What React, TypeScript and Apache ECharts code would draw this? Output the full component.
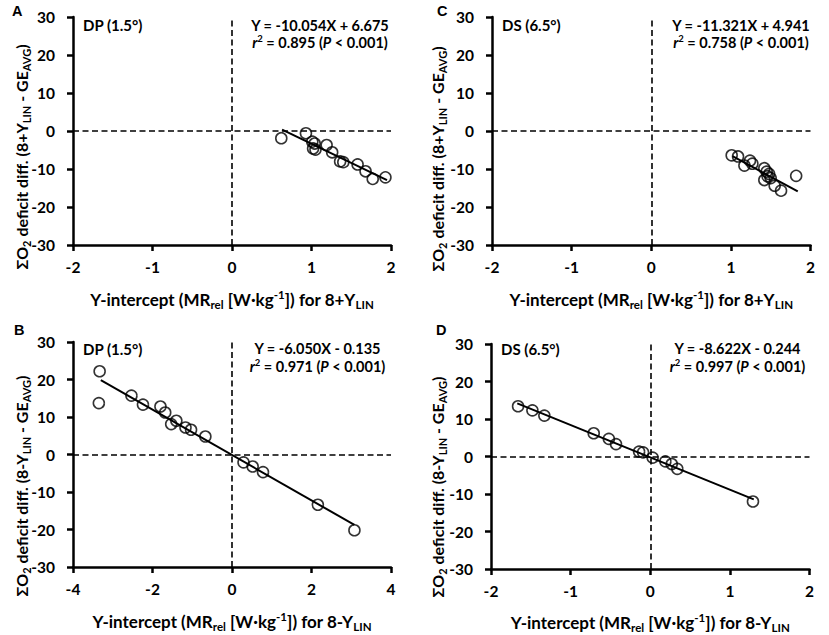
import React, { useEffect, useRef } from "react";
import * as echarts from "echarts";

// Panel A: DP (1.5°), 8+YLIN
const xA = [0.62, 0.93, 1.01, 1.04, 1.02, 1.05, 1.19, 1.26, 1.36, 1.40, 1.58, 1.68, 1.77, 1.93];
const yA = [-1.9, -0.6, -2.8, -3.3, -4.6, -4.9, -3.7, -5.6, -8.0, -8.2, -8.8, -10.6, -12.6, -12.2];
const fitA = { slope: -10.054, intercept: 6.675, x: [0.63, 1.95] };

// Panel C: DS (6.5°), 8+YLIN
const xC = [1.01, 1.09, 1.17, 1.24, 1.27, 1.42, 1.45, 1.48, 1.42, 1.50, 1.55, 1.63, 1.82, 1.46];
const yC = [-6.4, -6.7, -9.1, -7.8, -8.6, -9.8, -10.7, -11.3, -12.9, -12.4, -14.4, -15.7, -11.8, -11.9];
const fitC = { slope: -11.321, intercept: 4.941, x: [1.02, 1.84] };

// Panel B: DP (1.5°), 8-YLIN
const xB = [-3.33, -3.35, -2.53, -2.24, -1.80, -1.68, -1.53, -1.40, -1.17, -1.03, -0.67, 0.29, 0.52, 0.78, 2.16, 3.08];
const yB = [22.2, 13.7, 15.7, 13.3, 12.8, 11.2, 8.1, 9.0, 7.2, 6.6, 4.8, -2.1, -3.2, -4.7, -13.4, -20.2];
const fitB = { slope: -6.05, intercept: -0.135, x: [-3.3, 3.08] };

// Panel D: DS (6.5°), 8-YLIN
const xD = [-1.66, -1.48, -1.33, -0.71, -0.52, -0.43, -0.14, -0.09, 0.03, 0.19, 0.27, 0.34, 1.29];
const yD = [13.4, 12.3, 10.9, 6.2, 4.7, 3.3, 1.3, 1.1, -0.3, -1.3, -2.0, -3.3, -12.0];
const fitD = { slope: -8.622, intercept: -0.244, x: [-1.67, 1.3] };

const panelLetters = ["A", "C", "B", "D"];
const conditions = ["DP (1.5°)", "DS (6.5°)", "DP (1.5°)", "DS (6.5°)"];
const equations = ["Y = -10.054X + 6.675", "Y = -11.321X + 4.941", "Y = -6.050X - 0.135", "Y = -8.622X - 0.244"];
const r2Values = ["0.895", "0.758", "0.971", "0.997"];
const modes = ["8+Y", "8+Y", "8-Y", "8-Y"];
const xRanges = [
  [-2, 2, 1],
  [-2, 2, 1],
  [-4, 4, 2],
  [-2, 2, 1],
];
const yRange = [-30, 30, 10];

const F = "Lato, 'Noto Sans', sans-serif";

const mkRich = (size: number, subSize: number) => ({
  n: { fontSize: size, fontWeight: "bold", fontFamily: F, color: "#000", lineHeight: 22, verticalAlign: "middle" },
  s: { fontSize: subSize, fontWeight: "bold", fontFamily: F, color: "#000", lineHeight: 13, verticalAlign: "bottom" },
  p: { fontSize: subSize, fontWeight: "bold", fontFamily: F, color: "#000", lineHeight: 13, verticalAlign: "top" },
});
const richX = mkRich(17, 11.5);
const richY = mkRich(16, 11);

const richEq = {
  b: { fontSize: 14.5, fontWeight: "bold", fontFamily: F, color: "#000", lineHeight: 18, verticalAlign: "middle" },
  i: { fontSize: 14.5, fontWeight: "bold", fontStyle: "italic", fontFamily: F, color: "#000", lineHeight: 18, verticalAlign: "middle" },
  p: { fontSize: 9.5, fontWeight: "bold", fontFamily: F, color: "#000", lineHeight: 11, verticalAlign: "top" },
};

// layout of the four panels: A (top-left), C (top-right), B (bottom-left), D (bottom-right)
const layout = [
  { left: 73, top: 17, width: 318, height: 228, letter: [12, 3], cond: [83, 25], eq: [320, 25, 42.5], yTitle: [21, 157], gap: 43 },
  { left: 492, top: 17, width: 318.5, height: 228, letter: [437, 3], cond: [502, 25], eq: [741, 25, 42.5], yTitle: [437, 159], gap: 43 },
  { left: 73, top: 342, width: 318, height: 225, letter: [14, 322], cond: [83, 349], eq: [317.5, 348.5, 366.5], yTitle: [21, 486], gap: 43 },
  { left: 491, top: 344, width: 318.5, height: 225, letter: [436, 322], cond: [501, 349], eq: [737.5, 348.5, 366.5], yTitle: [437, 487], gap: 42 },
];

const pts = (xs: number[], ys: number[]) => xs.map((x, i) => [x, ys[i]]);
const fitPts = (f: { slope: number; intercept: number; x: number[] }) =>
  f.x.map((x) => [x, f.slope * x + f.intercept]);

export default function App() {
  const ref = useRef<HTMLDivElement>(null);
  useEffect(() => {
    if (!ref.current) return;
    const chart = echarts.init(ref.current, undefined, { renderer: "svg" });
    const data = [pts(xA, yA), pts(xC, yC), pts(xB, yB), pts(xD, yD)];
    const fits = [fitA, fitC, fitB, fitD];

    const grids = layout.map((l) => ({ left: l.left, top: l.top, width: l.width, height: l.height }));
    const axisLine = { onZero: false, lineStyle: { color: "#000", width: 2.5 } };
    const axisTick = { show: true, inside: false, length: 6, lineStyle: { color: "#000", width: 2.5 } };
    const labelStyle = { color: "#000", fontFamily: F, fontWeight: "bold", fontSize: 15.5 };

    const xAxes = layout.map((l, i) => ({
      type: "value",
      gridIndex: i,
      min: xRanges[i][0],
      max: xRanges[i][1],
      interval: xRanges[i][2],
      axisLine,
      axisTick,
      splitLine: { show: false },
      axisLabel: { ...labelStyle, margin: 14 },
      name: `{n|Y-intercept (MR}{s|rel}{n| [W·kg}{p|-1}{n|]) for ${modes[i]}}{s|LIN}`,
      nameLocation: "middle",
      nameGap: l.gap,
      nameTextStyle: { rich: richX },
    }));
    const yAxes = layout.map((l, i) => ({
      type: "value",
      gridIndex: i,
      min: yRange[0],
      max: yRange[1],
      interval: yRange[2],
      axisLine,
      axisTick,
      splitLine: { show: false },
      axisLabel: { ...labelStyle, margin: 18 },
    }));

    const series: any[] = [];
    data.forEach((d, i) => {
      series.push({
        type: "scatter",
        xAxisIndex: i,
        yAxisIndex: i,
        data: d,
        symbol: "circle",
        symbolSize: 11,
        itemStyle: { color: "rgba(255,255,255,0)", borderColor: "#000", borderWidth: 1.6 },
        z: 3,
        markLine: {
          silent: true,
          symbol: ["none", "none"],
          label: { show: false },
          lineStyle: { color: "#000", width: 1.6, type: [6, 3.5] },
          data: [{ xAxis: 0 }, { yAxis: 0 }],
        },
      });
      series.push({
        type: "line",
        xAxisIndex: i,
        yAxisIndex: i,
        data: fitPts(fits[i]),
        symbol: "none",
        lineStyle: { color: "#000", width: 2 },
        z: 4,
      });
    });

    const graphic: any[] = [];
    layout.forEach((l, i) => {
      graphic.push({
        type: "text",
        x: l.letter[0],
        y: l.letter[1],
        style: { text: panelLetters[i], fontFamily: "'Liberation Sans', Arial, sans-serif", fontWeight: "bold", fontSize: 14.5, fill: "#000" },
      });
      graphic.push({
        type: "text",
        x: l.cond[0],
        y: l.cond[1],
        style: { text: conditions[i], fontFamily: F, fontWeight: "bold", fontSize: 15, fill: "#000", verticalAlign: "middle" },
      });
      graphic.push({
        type: "text",
        x: l.eq[0],
        y: l.eq[1],
        style: { text: `{b|${equations[i]}}`, rich: richEq, align: "center", verticalAlign: "middle" },
      });
      graphic.push({
        type: "text",
        x: l.eq[0],
        y: l.eq[2],
        style: {
          text: `{i|r}{p|2}{b| = ${r2Values[i]} (}{i|P}{b| < 0.001)}`,
          rich: richEq,
          align: "center",
          verticalAlign: "middle",
        },
      });
      graphic.push({
        type: "text",
        x: l.yTitle[0],
        y: l.yTitle[1],
        rotation: Math.PI / 2,
        style: {
          text: `{n|ΣO}{s|2}{n| deficit diff. (${modes[i]}}{s|LIN}{n| - GE}{s|AVG}{n|)}`,
          rich: richY,
          align: "center",
          verticalAlign: "middle",
        },
      });
    });

    chart.setOption({
      animation: false,
      backgroundColor: "#fff",
      grid: grids,
      xAxis: xAxes,
      yAxis: yAxes,
      series,
      graphic,
    });
    return () => chart.dispose();
  }, []);
  return <div ref={ref} style={{ position: "fixed", left: 0, top: 0, width: 829, height: 635 }} />;
}
